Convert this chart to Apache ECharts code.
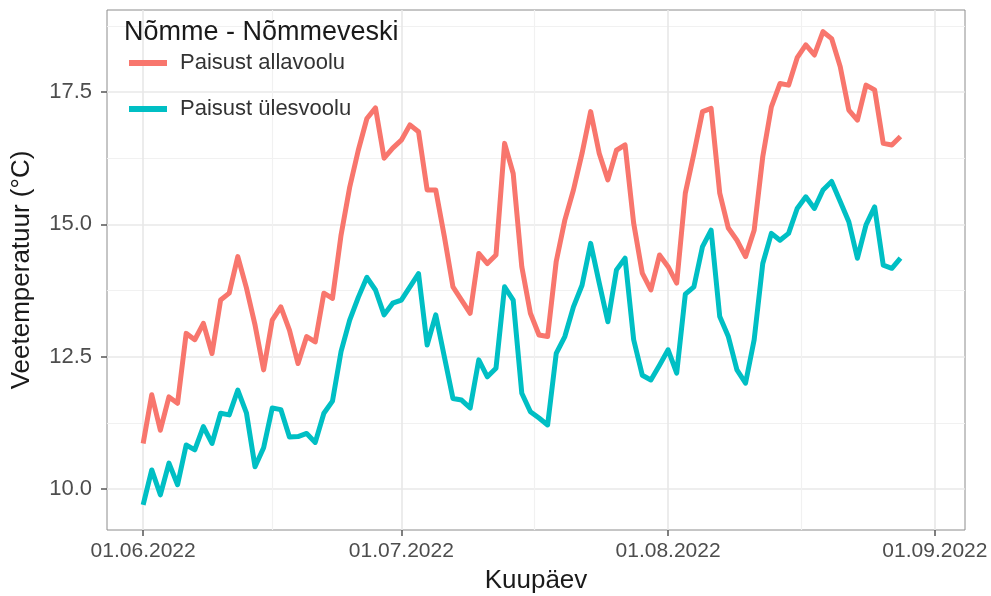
<!DOCTYPE html>
<html>
<head>
<meta charset="utf-8">
<title>Nõmme - Nõmmeveski</title>
<script src="https://cdn.jsdelivr.net/npm/echarts@6/dist/echarts.min.js"></script>
<style>
  html, body { margin: 0; padding: 0; background: #fff; }
  #chart { width: 991px; height: 596px; }
</style>
</head>
<body>
<div id="chart"></div>
<script>
// daily water temperature, 01.06.2022 .. 28.08.2022
const startDay = [2022, 5, 1]
const allavoolu = [
  10.86, 11.78, 11.11, 11.74, 11.62, 12.94, 12.82, 13.13, 12.56, 13.57,
  13.70, 14.39, 13.80, 13.10, 12.25, 13.19, 13.44, 13.00, 12.37, 12.88,
  12.78, 13.70, 13.60, 14.80, 15.70, 16.40, 17.00, 17.20, 16.25, 16.44,
  16.59, 16.88, 16.75, 15.65, 15.65, 14.77, 13.82, 13.57, 13.32, 14.45,
  14.26, 14.42, 16.53, 15.96, 14.20, 13.32, 12.91, 12.88, 14.30, 15.08,
  15.65, 16.34, 17.13, 16.34, 15.84, 16.40, 16.50, 15.02, 14.08, 13.76,
  14.42, 14.20, 13.89, 15.59, 16.34, 17.13, 17.19, 15.59, 14.93, 14.70,
  14.39, 14.89, 16.28, 17.22, 17.66, 17.63, 18.15, 18.39, 18.20, 18.64,
  18.51, 17.98, 17.16, 16.97, 17.63, 17.54, 16.53, 16.50, 16.66
]
const ylesvoolu = [
  9.70, 10.36, 9.89, 10.49, 10.08, 10.83, 10.74, 11.18, 10.86, 11.43,
  11.40, 11.87, 11.44, 10.42, 10.78, 11.53, 11.50, 10.98, 10.99, 11.05,
  10.88, 11.43, 11.66, 12.60, 13.19, 13.62, 14.00, 13.76, 13.29, 13.51,
  13.57, 13.82, 14.07, 12.72, 13.29, 12.50, 11.71, 11.68, 11.53, 12.44,
  12.12, 12.28, 13.82, 13.57, 11.81, 11.46, 11.34, 11.21, 12.56, 12.88,
  13.44, 13.85, 14.64, 13.89, 13.16, 14.14, 14.36, 12.82, 12.15, 12.06,
  12.34, 12.63, 12.19, 13.68, 13.82, 14.58, 14.89, 13.26, 12.88, 12.25,
  12.00, 12.82, 14.26, 14.83, 14.70, 14.83, 15.30, 15.52, 15.30, 15.65,
  15.81, 15.43, 15.05, 14.36, 14.99, 15.33, 14.23, 14.17, 14.36
]
const seriesNames = ['Paisust allavoolu', 'Paisust ülesvoolu']
const seriesColors = ['#F8766D', '#00BFC4']
const xTickDates = [[2022, 5, 1], [2022, 6, 1], [2022, 7, 1], [2022, 8, 1]]
const xMinorDates = [[2022, 5, 16], [2022, 6, 16.5], [2022, 7, 16.5]]
const yTicks = [10, 12.5, 15, 17.5]
const yMinor = [11.25, 13.75, 16.25, 18.75]

const DAY = 86400000
const ts = (d) => new Date(d[0], d[1], 1).getTime() + (d[2] - 1) * DAY
const dates = allavoolu.map((_, i) => ts(startDay) + i * DAY)
const xMin = ts(startDay) - 4.2 * DAY
const xMax = ts(xTickDates[3]) + 3.5 * DAY
const yMin = 9.225
const yMax = 19.05

const pad = (n) => (n < 10 ? '0' : '') + n
const fmtDate = (v) => {
  const d = new Date(v)
  return pad(d.getDate()) + '.' + pad(d.getMonth() + 1) + '.' + d.getFullYear()
}

const chart = echarts.init(document.getElementById('chart'), null, { renderer: 'canvas' })

const font = 'Liberation Sans, Arial, sans-serif'

chart.setOption({
  animation: false,
  backgroundColor: '#fff',
  title: {
    text: 'Nõmme - Nõmmeveski',
    left: 119,
    top: 14,
    textStyle: { fontFamily: font, fontSize: 27, fontWeight: 'normal', color: '#1a1a1a' }
  },
  legend: {
    orient: 'vertical',
    left: 124,
    top: 47,
    icon: 'rect',
    itemWidth: 38,
    itemHeight: 6,
    itemGap: 24,
    itemStyle: { borderWidth: 0 },
    textStyle: { fontFamily: font, fontSize: 22, color: '#333', padding: [0, 0, 0, 8] },
    data: seriesNames
  },
  grid: {
    left: 107,
    right: 26,
    top: 10,
    bottom: 66,
    outerBoundsMode: 'none',
    show: true,
    borderColor: '#8c8c8c',
    borderWidth: 1,
    backgroundColor: '#fff'
  },
  xAxis: [
    {
      type: 'value',
      min: xMin,
      max: xMax,
      name: 'Kuupäev',
      nameLocation: 'middle',
      nameGap: 38,
      nameTextStyle: { fontFamily: font, fontSize: 26, color: '#1a1a1a' },
      axisLine: { show: false },
      axisTick: { show: true, length: 6, lineStyle: { color: '#555', width: 1.5 }, customValues: xTickDates.map(ts) },
      axisLabel: {
        customValues: xTickDates.map(ts),
        formatter: (v) => fmtDate(v),
        margin: 11,
        fontFamily: font,
        fontSize: 21,
        color: '#4d4d4d'
      },
      splitLine: { show: true, lineStyle: { color: '#e8e8e8', width: 1.6 } }
    },
    {
      type: 'value',
      min: xMin,
      max: xMax,
      axisLine: { show: false },
      axisTick: { show: false, customValues: xMinorDates.map(ts) },
      axisLabel: { show: false },
      splitLine: { show: true, lineStyle: { color: '#f1f1f1', width: 1.2 } }
    }
  ],
  yAxis: [
    {
      type: 'value',
      min: yMin,
      max: yMax,
      name: 'Veetemperatuur (°C)',
      nameLocation: 'middle',
      nameGap: 72,
      nameRotate: 90,
      nameTextStyle: { fontFamily: font, fontSize: 26, color: '#1a1a1a' },
      axisLine: { show: false },
      axisTick: { show: true, length: 6, lineStyle: { color: '#555', width: 1.5 }, customValues: yTicks },
      axisLabel: {
        customValues: yTicks,
        formatter: (v) => v.toFixed(1),
        margin: 15,
        fontFamily: font,
        fontSize: 22,
        color: '#4d4d4d'
      },
      splitLine: { show: true, lineStyle: { color: '#e8e8e8', width: 1.6 } }
    },
    {
      type: 'value',
      min: yMin,
      max: yMax,
      position: 'left',
      axisLine: { show: false },
      axisTick: { show: false, customValues: yMinor },
      axisLabel: { show: false },
      splitLine: { show: true, lineStyle: { color: '#f1f1f1', width: 1.2 } }
    }
  ],
  series: [
    {
      name: seriesNames[0],
      type: 'line',
      data: dates.map((d, i) => [d, allavoolu[i]]),
      showSymbol: false,
      color: seriesColors[0],
      lineStyle: { width: 5, color: seriesColors[0], join: 'round' }
    },
    {
      name: seriesNames[1],
      type: 'line',
      data: dates.map((d, i) => [d, ylesvoolu[i]]),
      showSymbol: false,
      color: seriesColors[1],
      lineStyle: { width: 5, color: seriesColors[1], join: 'round' }
    }
  ]
})
</script>
</body>
</html>
